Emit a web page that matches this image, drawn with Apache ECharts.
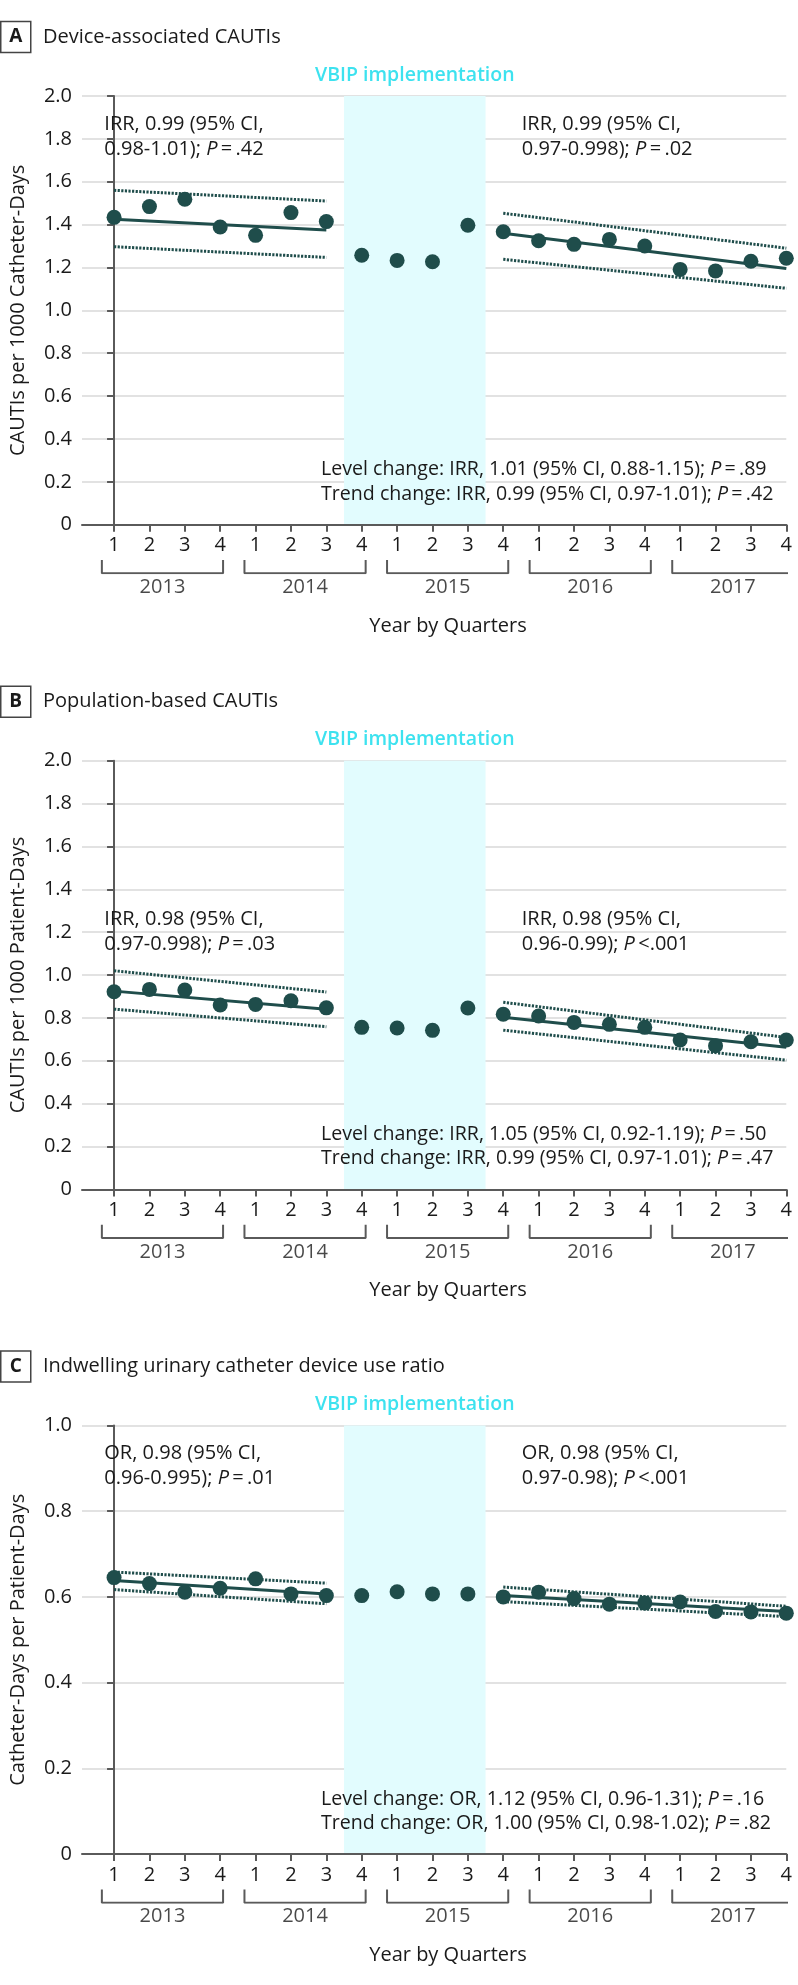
<!DOCTYPE html>
<html><head><meta charset="utf-8">
<script src="https://cdn.jsdelivr.net/npm/echarts@6/dist/echarts.min.js"></script>
<style>html,body{margin:0;padding:0;background:#fff}#c{width:798px;height:1985px}</style>
</head><body><div id="c"></div>
<script>
// ---------- data ----------
const quarterLabels = ['1','2','3','4','1','2','3','4','1','2','3','4','1','2','3','4','1','2','3','4'];
const yearLabels = ['2013','2014','2015','2016','2017'];
const panelLetters = ['A','B','C'];
const panelTitles = ['Device-associated CAUTIs','Population-based CAUTIs','Indwelling urinary catheter device use ratio'];
const yAxisNames = ['CAUTIs per 1000 Catheter-Days','CAUTIs per 1000 Patient-Days','Catheter-Days per Patient-Days'];
const yMaxes = [2.0, 2.0, 1.0];
const vbipRange = [6.5, 10.5];
const vbipLabel = 'VBIP implementation';
const xAxisTitle = 'Year by Quarters';

const valuesA = [1.434,1.484,1.518,1.389,1.350,1.456,1.414,1.257,1.233,1.227,1.397,1.367,1.325,1.308,1.331,1.300,1.191,1.184,1.229,1.243];
const valuesB = [0.922,0.933,0.930,0.860,0.863,0.880,0.847,0.756,0.753,0.742,0.846,0.817,0.809,0.779,0.770,0.756,0.697,0.670,0.689,0.697];
const valuesC = [0.645,0.631,0.611,0.620,0.642,0.607,0.603,0.603,0.612,0.607,0.607,0.600,0.611,0.596,0.583,0.586,0.588,0.566,0.565,0.562];

const preIdx = [0, 6];
const postIdx = [11, 19];
const preFitA = [1.425, 1.375], preUpA = [1.560, 1.510], preLoA = [1.297, 1.247];
const postFitA = [1.360, 1.195], postUpA = [1.453, 1.290], postLoA = [1.238, 1.103];
const preFitB = [0.925, 0.841], preUpB = [1.020, 0.921], preLoB = [0.841, 0.759];
const postFitB = [0.803, 0.663], postUpB = [0.873, 0.709], postLoB = [0.743, 0.603];
const preFitC = [0.638, 0.607], preUpC = [0.658, 0.632], preLoC = [0.617, 0.584];
const postFitC = [0.603, 0.566], postUpC = [0.623, 0.578], postLoC = [0.589, 0.554];

const preNoteA = ['IRR, 0.99 (95% CI,', '0.98-1.01); {i|P}\u2009=\u2009.42'];
const postNoteA = ['IRR, 0.99 (95% CI,', '0.97-0.998); {i|P}\u2009=\u2009.02'];
const changeNoteA = ['Level change: IRR, 1.01 (95% CI, 0.88-1.15); {i|P}\u2009=\u2009.89', 'Trend change: IRR, 0.99 (95% CI, 0.97-1.01); {i|P}\u2009=\u2009.42'];
const preNoteB = ['IRR, 0.98 (95% CI,', '0.97-0.998); {i|P}\u2009=\u2009.03'];
const postNoteB = ['IRR, 0.98 (95% CI,', '0.96-0.99); {i|P}\u2009<.001'];
const changeNoteB = ['Level change: IRR, 1.05 (95% CI, 0.92-1.19); {i|P}\u2009=\u2009.50', 'Trend change: IRR, 0.99 (95% CI, 0.97-1.01); {i|P}\u2009=\u2009.47'];
const preNoteC = ['OR, 0.98 (95% CI,', '0.96-0.995); {i|P}\u2009=\u2009.01'];
const postNoteC = ['OR, 0.98 (95% CI,', '0.97-0.98); {i|P}\u2009<.001'];
const changeNoteC = ['Level change: OR, 1.12 (95% CI, 0.96-1.31); {i|P}\u2009=\u2009.16', 'Trend change: OR, 1.00 (95% CI, 0.98-1.02); {i|P}\u2009=\u2009.82'];

// ---------- styling / layout ----------
const FONT = '"Open Sans", "Noto Sans", sans-serif';
const TXT = '#1a1a1a';
const AX = '#5a5a5a';
const DOT = '#1f4d4b';
const SHADE = '#e2fcfe';
const CYAN = '#3de2ef';
const gridLeft = 76.7, gridWidth = 709.6, plotH = 428.7;
const panelTops = [96, 760.7, 1425.4];
const xMin = -0.906, xMax = 19;

const allValues = [valuesA, valuesB, valuesC];
const trends = [
  [preFitA, preUpA, preLoA, postFitA, postUpA, postLoA],
  [preFitB, preUpB, preLoB, postFitB, postUpB, postLoB],
  [preFitC, preUpC, preLoC, postFitC, postUpC, postLoC]
];
const notes = [[preNoteA, postNoteA, changeNoteA],[preNoteB, postNoteB, changeNoteB],[preNoteC, postNoteC, changeNoteC]];
const noteTopOffsets = [28, 158.3, 27.8];

const grid = [], xAxis = [], yAxis = [], series = [], graphic = [];
const idxs = quarterLabels.map((_, i) => i);

for (let p = 0; p < 3; p++) {
  const top = panelTops[p];
  const mainG = grid.length;
  grid.push({left: gridLeft, width: gridWidth, top: top, height: plotH});
  grid.push({left: gridLeft, width: gridWidth, top: top + plotH + 35.3, height: 13.3});
  const bG = mainG + 1;
  xAxis.push({
    gridIndex: mainG, type: 'value', min: xMin, max: xMax, z: 10,
    axisLine: {show: true, onZero: false, lineStyle: {color: AX, width: 2}},
    axisTick: {show: true, length: 7, customValues: idxs, lineStyle: {color: AX, width: 2}},
    axisLabel: {customValues: idxs, formatter: v => quarterLabels[Math.round(v)], fontSize: 20, color: TXT, fontFamily: FONT, margin: 11},
    splitLine: {show: false}
  });
  xAxis.push({gridIndex: bG, type: 'value', min: xMin, max: xMax, show: false});
  yAxis.push({
    gridIndex: mainG, type: 'value', min: 0, max: yMaxes[p], interval: 0.2,
    axisLine: {show: true, lineStyle: {color: AX, width: 2}},
    axisTick: {show: true, length: 7, lineStyle: {color: AX, width: 2}},
    axisLabel: {formatter: v => v === 0 ? '0' : v.toFixed(1), fontSize: 20, color: TXT, fontFamily: FONT, margin: 10},
    splitLine: {show: true, lineStyle: {color: '#d9d9d9', width: 1.5}},
    name: yAxisNames[p], nameLocation: 'middle', nameGap: 54,
    nameTextStyle: {fontSize: 20, color: TXT, fontFamily: FONT}
  });
  yAxis.push({gridIndex: bG, type: 'value', min: 0, max: 1, show: false});

  const xi = xAxis.length - 2, yi = yAxis.length - 2;
  const tr = trends[p];
  tr.forEach((t, k) => {
    const idx = k < 3 ? preIdx : postIdx;
    const fit = (k % 3) === 0;
    series.push({
      type: 'line', xAxisIndex: xi, yAxisIndex: yi, silent: true, showSymbol: false, symbol: 'none', z: 3,
      data: [[idx[0], t[0]], [idx[1], t[1]]],
      lineStyle: fit ? {color: DOT, width: 3} : {color: DOT, width: 3, type: [2.2, 1.4]}
    });
  });
  series.push({
    type: 'scatter', xAxisIndex: xi, yAxisIndex: yi, z: 4, symbolSize: 15,
    itemStyle: {color: DOT, opacity: 1},
    data: allValues[p].map((v, i) => [i, v]),
    markArea: {
      silent: true, z: 1,
      itemStyle: {color: SHADE},
      label: {show: true, position: 'top', distance: 11, formatter: vbipLabel, color: CYAN, fontSize: 19.5, fontWeight: 600, fontFamily: FONT},
      data: [[{xAxis: vbipRange[0]}, {xAxis: vbipRange[1]}]]
    }
  });
  yearLabels.forEach((y, k) => {
    const s = k * 4 - 0.2, e = k * 4 + 3.2;
    series.push({
      type: 'line', xAxisIndex: xi + 1, yAxisIndex: yi + 1, silent: true, showSymbol: false, symbol: 'none',
      data: [[s, 1], [s, 0], [e, 0], [e, 1]],
      lineStyle: {color: AX, width: 2}
    });
  });
  series.push({
    type: 'scatter', xAxisIndex: xi + 1, yAxisIndex: yi + 1, silent: true, symbolSize: 0,
    data: yearLabels.map((y, k) => [k * 4 + 1.5, 0]),
    label: {show: true, position: 'bottom', distance: 4, formatter: q => yearLabels[q.dataIndex], fontSize: 20, color: TXT, fontFamily: FONT}
  });

  const mkRich = fs => ({i: {fontStyle: 'italic', fontSize: fs, fontFamily: FONT, fill: TXT}});
  const addText = (x, y, t, fs) => graphic.push({type: 'text', x: x, y: y, silent: true, z: 100,
    style: {text: t, fontSize: fs, fontFamily: FONT, fill: TXT, verticalAlign: 'middle', align: 'left', rich: mkRich(fs)}});
  const n = notes[p];
  const ny = top + noteTopOffsets[p];
  addText(104.3, ny, n[0][0], 20); addText(104.3, ny + 25, n[0][1], 20);
  addText(521.7, ny, n[1][0], 20); addText(521.7, ny + 25, n[1][1], 20);
  const by = top + plotH;
  addText(321, by - 55, n[2][0], 19.6); addText(321, by - 30.5, n[2][1], 19.6);

  const ty = top - 59;
  graphic.push({type: 'rect', silent: true, z: 100, shape: {x: 0.75, y: ty - 15.5, width: 30, height: 31},
    style: {fill: '#fff', stroke: '#444', lineWidth: 1.5}});
  graphic.push({type: 'text', silent: true, z: 101, x: 15.75, y: ty, style: {text: panelLetters[p], fontSize: 19, fontWeight: 'bold', fontFamily: FONT, fill: TXT, align: 'center', verticalAlign: 'middle'}});
  graphic.push({type: 'text', silent: true, z: 100, x: 43, y: ty, style: {text: panelTitles[p], fontSize: 20, fontFamily: FONT, fill: TXT, align: 'left', verticalAlign: 'middle'}});
  graphic.push({type: 'text', silent: true, z: 100, x: 448, y: top + 530, style: {text: xAxisTitle, fontSize: 20, fontFamily: FONT, fill: TXT, align: 'center', verticalAlign: 'middle'}});
}

const chart = echarts.init(document.getElementById('c'), null, {renderer: 'canvas'});
chart.setOption({animation: false, backgroundColor: '#fff', grid, xAxis, yAxis, series, graphic});
</script></body></html>
